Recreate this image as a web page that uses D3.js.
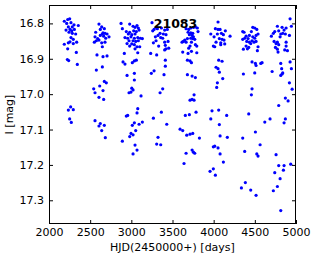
<!DOCTYPE html>
<html>
<head>
<meta charset="utf-8">
<title>21083</title>
<script src="https://d3js.org/d3.v7.min.js"></script>
<style>
  body { margin: 0; background: #fff; }
  text { font-family: "DejaVu Sans", sans-serif; fill: #000; }
</style>
</head>
<body>
<script>
// light curve of star 21083, one pair of arrays per observing season
const hjd1 = [2186,2227,2251,2215,2267,2235,2283,2304,2356,2207,2255,2276,2308,2243,2283,2324,2267,2295,2255,2235,2186,2295,2336,2227,2332,2223,2239,2344,2263,2235,2295,2251,2271]
const mag1 = [16.794,16.789,16.787,16.800,16.798,16.810,16.810,16.804,16.806,16.819,16.817,16.821,16.817,16.825,16.828,16.830,16.840,16.845,16.852,16.855,16.859,16.857,16.853,16.872,16.882,16.902,16.905,16.916,17.036,17.045,17.044,17.070,17.080]

const hjd2 = [2607,2640,2672,2623,2567,2656,2680,2648,2705,2729,2623,2664,2559,2591,2689,2575,2607,2551,2640,2680,2648,2583,2656,2705,2648,2575,2672,2696,2616,2543,2656,2559,2607,2664,2559,2623,2607,2672,2640,2684]
const mag2 = [16.802,16.810,16.815,16.817,16.825,16.827,16.828,16.830,16.830,16.838,16.834,16.836,16.838,16.843,16.842,16.849,16.847,16.853,16.855,16.853,16.866,16.889,16.894,16.892,16.923,16.932,16.964,16.968,16.977,16.985,16.990,16.996,17.009,17.015,17.075,17.083,17.090,17.088,17.103,17.123]

const hjd3 = [2875,2891,2980,3021,3045,3069,3085,2939,2980,3029,3061,3094,2964,3005,3045,2923,2956,2996,3037,3078,3110,3134,2972,3021,3053,3085,2948,3005,3037,2980,3069,3102,3045,2915,3078,2899,2923,3012,3037,3061,2948,3037,3037,3005,3021,2972,2996,3118,3078,3069,2939,2956,3012,3037,3094,3134,3053,2996,3021,2980,2891,3045,3069,3021]
const mag3 = [16.800,16.815,16.802,16.808,16.811,16.806,16.813,16.823,16.825,16.821,16.823,16.819,16.830,16.832,16.830,16.840,16.842,16.838,16.842,16.840,16.842,16.843,16.849,16.849,16.851,16.849,16.857,16.858,16.860,16.864,16.866,16.866,16.872,16.885,16.883,16.909,16.915,16.911,16.906,16.904,16.947,16.941,16.960,16.983,16.988,16.996,16.994,17.005,17.041,17.053,17.062,17.060,17.088,17.081,17.085,17.079,17.103,17.111,17.115,17.120,17.133,17.144,17.158,17.169]

const hjd4 = [3251,3276,3300,3260,3316,3365,3405,3437,3349,3389,3421,3292,3324,3357,3381,3446,3268,3300,3405,3413,3332,3421,3454,3405,3235,3308,3413,3413,3276,3243,3397,3381,3349,3365,3268,3430,3324,3308,3357]
const mag4 = [16.798,16.817,16.811,16.821,16.815,16.813,16.819,16.817,16.828,16.830,16.832,16.838,16.834,16.840,16.842,16.851,16.855,16.849,16.853,16.862,16.864,16.872,16.870,16.875,16.885,16.889,16.904,16.921,16.934,16.941,16.945,16.985,16.996,17.051,17.068,17.085,17.122,17.141,17.143]

const hjd5 = [3665,3697,3722,3754,3778,3802,3689,3722,3746,3810,3705,3738,3754,3722,3746,3770,3649,3616,3632,3665,3681,3730,3778,3795,3713,3697,3624,3689,3730,3795,3681,3713,3730,3681,3738,3778,3762,3713,3738,3762,3656,3705,3786,3592,3624,3673,3713,3746,3827,3665,3738,3754,3770,3640]
const mag5 = [16.815,16.817,16.813,16.811,16.810,16.813,16.825,16.827,16.828,16.823,16.832,16.834,16.838,16.842,16.843,16.845,16.847,16.853,16.851,16.853,16.843,16.853,16.860,16.864,16.864,16.870,16.881,16.885,16.879,16.883,16.904,16.906,16.911,16.945,16.949,16.953,17.002,17.017,17.015,17.017,17.060,17.058,17.051,17.099,17.103,17.116,17.113,17.111,17.124,17.167,17.158,17.164,17.167,17.196]

const hjd6 = [4053,4021,4053,4078,4142,3965,4005,4045,4094,4118,4199,4069,4102,4126,4029,4086,4134,3996,4013,4086,4061,4102,4029,4053,4069,4110,4045,4037,3980,4061,3965,4158,4069,4078,4166,3996,4013,4053,4078,4118,3996,3956,4021]
const mag6 = [16.796,16.815,16.817,16.817,16.821,16.830,16.838,16.830,16.828,16.832,16.836,16.843,16.845,16.847,16.853,16.855,16.858,16.864,16.866,16.860,16.904,16.907,16.924,16.928,16.938,16.956,16.968,16.981,17.047,17.045,17.070,17.060,17.086,17.118,17.122,17.149,17.147,17.152,17.169,17.192,17.211,17.218,17.229]

const hjd7 = [4353,4369,4475,4499,4524,4458,4539,4394,4434,4377,4418,4475,4499,4515,4353,4402,4434,4466,4491,4515,4450,4394,4426,4361,4410,4539,4531,4466,4507,4515,4572,4588,4361,4499,4466,4458,4426,4621,4353,4507,4564,4377,4524,4539,4385,4337,4450,4515]
const mag7 = [16.823,16.825,16.811,16.813,16.817,16.823,16.830,16.836,16.834,16.842,16.843,16.838,16.842,16.834,16.845,16.851,16.853,16.849,16.853,16.851,16.857,16.864,16.868,16.873,16.872,16.866,16.877,16.909,16.913,16.919,16.913,16.911,16.943,16.940,16.985,17.002,17.056,17.079,17.124,17.107,17.143,17.162,17.169,17.175,17.250,17.265,17.271,17.286]

const hjd8 = [4928,4944,4774,4831,4880,4855,4790,4742,4725,4701,4815,4839,4871,4920,4807,4734,4774,4758,4790,4880,4880,4750,4774,4863,4896,4782,4815,4928,4710,4826,4839,4944,4815,4831,4920,4953,4871,4904,4790,4685,4871,4855,4758,4936,4790,4855,4847,4742,4807,4774,4725,4815]
const mag8 = [16.787,16.808,16.808,16.811,16.813,16.819,16.821,16.823,16.828,16.836,16.830,16.828,16.830,16.834,16.838,16.851,16.853,16.857,16.860,16.853,16.864,16.868,16.873,16.875,16.877,16.881,16.913,16.909,16.936,16.928,16.940,16.928,16.947,16.943,16.968,16.986,17.011,17.019,17.032,17.070,17.070,17.081,17.171,17.198,17.202,17.202,17.215,17.222,17.239,17.261,17.273,17.329]

const xTicks = [2000, 2500, 3000, 3500, 4000, 4500, 5000]
const yTicks = [16.8, 16.9, 17.0, 17.1, 17.2, 17.3]
const starId = "21083"

const width = 316, height = 259
const pLeft = 49, pRight = 296, pTop = 5, pBottom = 224

const hjdAll = [hjd1, hjd2, hjd3, hjd4, hjd5, hjd6, hjd7, hjd8].flat()
const magAll = [mag1, mag2, mag3, mag4, mag5, mag6, mag7, mag8].flat()
const points = hjdAll.map((h, i) => ({ h: h, m: magAll[i] }))

const x = d3.scaleLinear().domain([2000, 5000]).range([pLeft, pRight])
const y = d3.scaleLinear().domain([16.748, 17.367]).range([pTop, pBottom])

const svg = d3.select("body").append("svg")
  .attr("width", width)
  .attr("height", height)

svg.append("g")
  .selectAll("circle")
  .data(points)
  .join("circle")
  .attr("cx", d => x(d.h))
  .attr("cy", d => y(d.m))
  .attr("r", 1.6)
  .attr("fill", "#0000ff")

// axes with inward ticks on all four sides
const fs = "11px"
const gx = svg.append("g").attr("transform", `translate(0,${pBottom})`)
  .call(d3.axisBottom(x).tickValues(xTicks).tickSizeInner(-4).tickSizeOuter(0).tickPadding(4).tickFormat(d3.format("d")))
const gy = svg.append("g").attr("transform", `translate(${pLeft},0)`)
  .call(d3.axisLeft(y).tickValues(yTicks).tickSizeInner(-4).tickSizeOuter(0).tickPadding(5).tickFormat(d3.format(".1f")))
const gt = svg.append("g").attr("transform", `translate(0,${pTop})`)
  .call(d3.axisTop(x).tickValues(xTicks).tickSizeInner(-4).tickSizeOuter(0).tickFormat(""))
const gr = svg.append("g").attr("transform", `translate(${pRight},0)`)
  .call(d3.axisRight(y).tickValues(yTicks).tickSizeInner(-4).tickSizeOuter(0).tickFormat(""))

;[gx, gy, gt, gr].forEach(g => {
  g.select(".domain").remove()
  g.selectAll("line").attr("stroke", "#000")
  g.selectAll("text").style("font-size", fs).style("font-family", "DejaVu Sans")
})

svg.append("rect")
  .attr("x", pLeft + 0.5).attr("y", pTop + 0.5)
  .attr("width", pRight - pLeft - 1).attr("height", pBottom - pTop - 1)
  .attr("fill", "none").attr("stroke", "#000").attr("stroke-width", 1)

svg.append("text")
  .attr("x", (pLeft + pRight) / 2 + 3)
  .attr("y", 27.5)
  .attr("text-anchor", "middle")
  .style("font-size", "12.5px")
  .style("font-weight", "bold")
  .text(starId)

svg.append("text")
  .attr("x", (pLeft + pRight) / 2)
  .attr("y", 251)
  .attr("text-anchor", "middle")
  .style("font-size", fs)
  .text("HJD(2450000+) [days]")

svg.append("text")
  .attr("transform", `translate(13,${(pTop + pBottom) / 2}) rotate(-90)`)
  .attr("text-anchor", "middle")
  .style("font-size", fs)
  .text("I [mag]")
</script>
</body>
</html>
